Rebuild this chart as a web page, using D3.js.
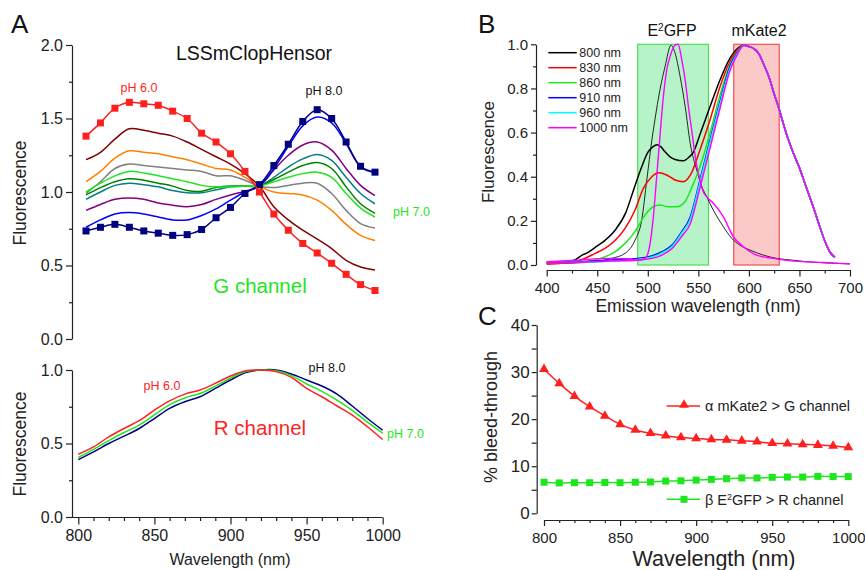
<!DOCTYPE html>
<meta charset="utf-8">
<style>
    body { margin: 0; background: #fff; }
    svg text { font-family: "Liberation Sans", Arial, sans-serif; fill: #222; }
    .axis path, .axis line { stroke: #222; stroke-width: 1.2px; }
    .axis text { fill: #222; }
    .curve { fill: none; }
</style>
<svg width="865" height="570"></svg>
<script src="https://d3js.org/d3.v7.min.js"></script>
<script>
    // ---- panel A : excitation wavelengths (nm) ----
    const wlA = [800, 810, 820, 830, 840, 850, 860, 870, 880, 890, 900, 910, 920, 930, 940, 950, 960, 970, 980, 990, 1000];

    // G channel, pH 6.0 -> pH 8.0
    const gPh60 = [1.38, 1.47, 1.57, 1.61, 1.60, 1.59, 1.55, 1.50, 1.40, 1.34, 1.26, 1.14, 1.00, 0.85, 0.74, 0.65, 0.585, 0.515, 0.44, 0.37, 0.33];
    const gMaroon = [1.22, 1.27, 1.36, 1.43, 1.42, 1.40, 1.38, 1.34, 1.29, 1.24, 1.19, 1.125, 1.04, 0.90, 0.81, 0.74, 0.68, 0.615, 0.535, 0.49, 0.47];
    const gOrange = [1.07, 1.14, 1.23, 1.28, 1.27, 1.26, 1.24, 1.22, 1.19, 1.16, 1.15, 1.10, 1.04, 1.00, 0.99, 0.98, 0.945, 0.875, 0.78, 0.705, 0.67];
    const gGray = [0.99, 1.07, 1.16, 1.19, 1.18, 1.17, 1.16, 1.15, 1.14, 1.11, 1.11, 1.08, 1.04, 1.03, 1.045, 1.06, 1.06, 0.99, 0.875, 0.785, 0.755];
    const gPh70 = [1.00, 1.06, 1.11, 1.14, 1.13, 1.11, 1.09, 1.07, 1.045, 1.035, 1.035, 1.04, 1.04, 1.07, 1.10, 1.125, 1.135, 1.10, 0.99, 0.89, 0.83];
    const gDkGreen = [0.98, 1.03, 1.07, 1.09, 1.08, 1.06, 1.04, 1.01, 1.005, 1.03, 1.04, 1.04, 1.04, 1.085, 1.135, 1.18, 1.20, 1.16, 1.035, 0.92, 0.855];
    const gTeal = [0.95, 1.00, 1.045, 1.06, 1.05, 1.035, 1.01, 0.995, 0.995, 1.015, 1.035, 1.04, 1.04, 1.10, 1.17, 1.225, 1.255, 1.215, 1.10, 0.99, 0.92];
    const gPurple = [0.875, 0.915, 0.95, 0.96, 0.95, 0.925, 0.91, 0.90, 0.915, 0.95, 0.98, 1.005, 1.04, 1.15, 1.25, 1.32, 1.34, 1.285, 1.16, 1.045, 0.975];
    const gBlue = [0.76, 0.81, 0.85, 0.86, 0.85, 0.83, 0.81, 0.81, 0.84, 0.885, 0.945, 1.00, 1.04, 1.16, 1.31, 1.45, 1.51, 1.47, 1.33, 1.17, 1.13];
    const gPh80 = [0.735, 0.76, 0.78, 0.76, 0.735, 0.72, 0.705, 0.71, 0.745, 0.825, 0.895, 0.99, 1.05, 1.18, 1.325, 1.48, 1.56, 1.50, 1.34, 1.175, 1.135];

    // R channel
    const rPh60 = [0.427, 0.477, 0.545, 0.602, 0.655, 0.727, 0.79, 0.836, 0.864, 0.909, 0.959, 0.995, 1.0, 0.989, 0.95, 0.875, 0.818, 0.755, 0.693, 0.614, 0.527];
    const rPh70 = [0.405, 0.46, 0.52, 0.575, 0.625, 0.695, 0.765, 0.81, 0.84, 0.89, 0.945, 0.99, 1.0, 0.995, 0.962, 0.905, 0.855, 0.795, 0.725, 0.645, 0.57];
    const rPh80 = [0.39, 0.443, 0.5, 0.55, 0.602, 0.67, 0.739, 0.784, 0.818, 0.875, 0.932, 0.982, 1.0, 1.0, 0.973, 0.932, 0.891, 0.836, 0.755, 0.67, 0.59];

    // ---- panel B : emission spectra [nm, normalised fluorescence] ----
    const mKateTail = [[595, 0.996], [600, 0.99], [605, 0.98], [610, 0.955], [615, 0.905], [620, 0.85], [625, 0.775], [630, 0.705],
        [635, 0.625], [640, 0.555], [645, 0.495], [650, 0.44], [655, 0.375], [660, 0.31], [665, 0.245], [670, 0.175],
        [675, 0.11], [680, 0.06], [685, 0.035]];
    const spec800 = [[400, 0.01], [410, 0.012], [420, 0.015], [428, 0.023], [435, 0.045], [440, 0.055], [448, 0.08], [458, 0.113],
        [468, 0.16], [478, 0.235], [487, 0.355], [494, 0.445], [500, 0.51], [505, 0.535], [509, 0.545], [513, 0.535],
        [517, 0.513], [522, 0.49], [527, 0.478], [535, 0.472], [541, 0.49], [545, 0.51], [552, 0.597], [561.5, 0.717],
        [571.4, 0.838], [581.2, 0.936], [589, 0.982]];
    const spec830 = [[400, 0.005], [420, 0.01], [431, 0.018], [448, 0.053], [458, 0.076], [468, 0.113], [477.5, 0.166], [487.4, 0.249],
        [495.6, 0.347], [504, 0.40], [510.5, 0.418], [518.7, 0.408], [527, 0.385], [535, 0.377], [543, 0.415], [551.6, 0.521],
        [561.5, 0.657], [571.4, 0.808], [581.2, 0.921], [589, 0.976]];
    const spec860 = [[400, 0.01], [430, 0.012], [448, 0.023], [458, 0.038], [467.6, 0.06], [477.5, 0.098], [487.4, 0.151], [497.3, 0.227],
        [505.5, 0.264], [512, 0.272], [520.3, 0.264], [528.5, 0.264], [536.8, 0.287], [542, 0.335], [551.6, 0.445],
        [561.5, 0.597], [571.4, 0.77], [581.2, 0.906], [589, 0.97]];
    const spec910 = [[400, 0.015], [431, 0.015], [464, 0.023], [490, 0.03], [504, 0.041], [514, 0.06], [524, 0.09], [533.6, 0.151],
        [541.8, 0.215], [551.6, 0.385], [561.5, 0.566], [571.4, 0.74], [581.2, 0.899], [589, 0.966]];
    const spec960 = [[400, 0.012], [431, 0.012], [464, 0.018], [490, 0.025], [504, 0.036], [514, 0.055], [524, 0.085], [533.6, 0.145],
        [541.8, 0.205], [551.6, 0.375], [561.5, 0.555], [571.4, 0.73], [581.2, 0.89], [589, 0.962]];
    const spec1000 = [[400, 0.01], [431, 0.012], [464, 0.018], [490, 0.022], [504, 0.03], [514, 0.045], [524, 0.075], [533.6, 0.13],
        [541.8, 0.185], [551.6, 0.35], [561.5, 0.53], [571.4, 0.71], [581.2, 0.88], [589, 0.958]];
    // narrow E2GFP-like reference spectra
    const refBlack = [[400, 0.005], [448, 0.015], [464, 0.03], [477.5, 0.053], [487.4, 0.113], [494, 0.204], [499, 0.385], [504, 0.566],
        [507, 0.657], [512, 0.793], [517, 0.898], [523, 0.996], [527, 0.96], [532, 0.853], [537, 0.717], [542, 0.55],
        [548.4, 0.43], [553, 0.36], [558.2, 0.31], [564.8, 0.249], [574.7, 0.174], [583, 0.121], [591, 0.09], [601, 0.068],
        [614.2, 0.045], [627.4, 0.03], [640.6, 0.023], [657, 0.015], [673.6, 0.01], [700, 0.005]];
    const refMagenta = [[400, 0.015], [430, 0.022], [460, 0.03], [480, 0.028], [490, 0.022], [497.3, 0.03], [502.3, 0.098], [505.5, 0.219],
        [508.8, 0.4], [512, 0.582], [515.4, 0.763], [518.7, 0.884], [522, 0.944], [527, 0.996], [530, 1.0], [533.6, 0.929],
        [537, 0.838], [540.2, 0.717], [543.4, 0.612], [548, 0.46], [551.6, 0.385], [555, 0.33], [558, 0.31], [564.8, 0.28],
        [574.7, 0.219], [584.6, 0.128], [594.5, 0.083], [607.6, 0.045], [624, 0.03], [640, 0.02], [673.6, 0.011], [700, 0.005]];
    const legendB = ["800 nm", "830 nm", "860 nm", "910 nm", "960 nm", "1000 nm"];
    const bandGfp = [490, 560];
    const bandKate = [585, 630];

    // ---- panel C : bleed-through (%) ----
    const alphaBleed = [30.6, 27.6, 24.9, 22.65, 20.7, 18.9, 17.7, 17.0, 16.5, 16.1, 15.9, 15.7, 15.6, 15.4, 15.2, 14.9, 14.8, 14.65, 14.5, 14.3, 14.0];
    const betaBleed = [6.6, 6.45, 6.5, 6.5, 6.55, 6.5, 6.6, 6.65, 6.85, 6.9, 7.05, 7.2, 7.35, 7.5, 7.5, 7.65, 7.7, 7.7, 7.85, 7.8, 7.8];

    const RED = "#ff1f1f", LIME = "#1ee61e", NAVY = "#000080";

    let svg = d3.select("svg");

    // generic axis with major + minor ticks
    function addAxis(axisFn, scale, tx, ty, majors, minors, fmt, o) {
        let g = svg.append("g").attr("class", "axis").attr("transform", "translate(" + tx + "," + ty + ")");
        g.append("g").call(axisFn(scale).tickValues(minors).tickFormat("").tickSize(o.minor).tickSizeOuter(0))
            .select(".domain").remove();
        g.append("g").call(axisFn(scale).tickValues(majors).tickFormat(fmt).tickSize(o.major)
            .tickPadding(o.pad).tickSizeOuter(0))
            .selectAll("text").style("font-size", o.font + "px").style("font-family", '"Liberation Sans", Arial, sans-serif');
        if (o.noDomain) g.selectAll(".domain").remove();
        return g;
    }

    function label(txt, x, y, size, color, anchor) {
        return svg.append("text").attr("x", x).attr("y", y).attr("text-anchor", anchor || "middle")
            .style("font-size", size + "px").style("fill", color || "#222").text(txt);
    }

    function vLabel(txt, x, y, size) {
        svg.append("text").attr("transform", "translate(" + x + "," + y + ") rotate(-90)")
            .attr("text-anchor", "middle").style("font-size", size + "px").text(txt);
    }

    const f1 = d3.format(".1f");

    // ================= Panel A (top: G channel) =================
    let xTop = d3.scaleLinear().domain([800, 1000]).range([86, 375]);
    let yTop = d3.scaleLinear().domain([0, 2]).range([339, 45]);

    addAxis(d3.axisLeft, yTop, 72, 0, [0, 0.5, 1, 1.5, 2], [0.25, 0.75, 1.25, 1.75], f1, {major: 6, minor: 3, pad: 3, font: 16});

    let lineTop = d3.line().x((d, i) => xTop(wlA[i])).y(d => yTop(d)).curve(d3.curveCatmullRom.alpha(0.5));

    const topSeries = [
        {v: gMaroon, c: "#800000"}, {v: gOrange, c: "#ff8000"}, {v: gGray, c: "#808080"},
        {v: gTeal, c: "#008080"}, {v: gDkGreen, c: "#008000"}, {v: gPh70, c: LIME},
        {v: gPurple, c: "#800080"}, {v: gBlue, c: "#0000ff"},
        {v: gPh80, c: NAVY, m: true}, {v: gPh60, c: RED, m: true}
    ];
    topSeries.forEach(s => {
        svg.append("path").attr("class", "curve").attr("d", lineTop(s.v))
            .attr("stroke", s.c).attr("stroke-width", 1.5);
        if (s.m) {
            svg.append("g").selectAll("rect").data(s.v).enter().append("rect")
                .attr("x", (d, i) => xTop(wlA[i]) - 3.5).attr("y", d => yTop(d) - 3.5)
                .attr("width", 7).attr("height", 7).attr("fill", s.c);
        }
    });

    label("LSSmClopHensor", 254, 60, 19.5, "#111");
    label("pH 6.0", 139, 91.5, 12.5, RED);
    label("pH 8.0", 324, 95, 12.5, "#111");
    label("pH 7.0", 393, 216, 12.5, LIME, "start");
    label("G channel", 260, 292.5, 20.5, LIME);
    vLabel("Fluorescence", 26, 193, 17.5);
    label("A", 11, 33, 26, "#111", "start");

    // ================= Panel A (bottom: R channel) =================
    let xBot = d3.scaleLinear().domain([800, 1000]).range([78.3, 382.7]);
    let yBot = d3.scaleLinear().domain([0, 1]).range([517, 370]);

    addAxis(d3.axisLeft, yBot, 72, 0, [0, 0.5, 1], [0.25, 0.75], f1, {major: 6, minor: 3, pad: 3, font: 16});
    addAxis(d3.axisBottom, xBot, 0, 517.5, [800, 850, 900, 950, 1000],
        wlA.filter(w => w % 50 !== 0), d3.format("d"), {major: 7, minor: 3.5, pad: 5, font: 16, noDomain: true});
    svg.append("line").attr("x1", 72).attr("x2", 382.7).attr("y1", 517.5).attr("y2", 517.5)
        .attr("stroke", "#222").attr("stroke-width", 1.2);

    let lineBot = d3.line().x((d, i) => xBot(wlA[i])).y(d => yBot(d)).curve(d3.curveCatmullRom.alpha(0.5));
    [{v: rPh80, c: NAVY}, {v: rPh70, c: LIME}, {v: rPh60, c: RED}].forEach(s => {
        svg.append("path").attr("class", "curve").attr("d", lineBot(s.v))
            .attr("stroke", s.c).attr("stroke-width", 1.5);
    });

    label("pH 6.0", 162, 390, 12.5, RED);
    label("pH 8.0", 327, 372, 12.5, "#111");
    label("pH 7.0", 387, 438, 12.5, LIME, "start");
    label("R channel", 260, 435, 20.5, RED);
    vLabel("Fluorescence", 26, 444, 17.5);
    label("Wavelength (nm)", 230, 565, 16);

    // ================= Panel B =================
    let xB = d3.scaleLinear().domain([400, 700]).range([546.7, 850]);
    let yB = d3.scaleLinear().domain([0, 1]).range([265, 44.3]);

    // filter bands
    svg.append("rect").attr("x", xB(bandGfp[0])).attr("y", yB(1))
        .attr("width", xB(bandGfp[1]) - xB(bandGfp[0])).attr("height", yB(0) - yB(1))
        .attr("fill", "#b6f3c8").attr("stroke", "#4fe04f").attr("stroke-width", 1.2);
    svg.append("rect").attr("x", xB(bandKate[0])).attr("y", yB(1))
        .attr("width", xB(bandKate[1]) - xB(bandKate[0])).attr("height", yB(0) - yB(1))
        .attr("fill", "#fcc9c9").attr("stroke", "#f25050").attr("stroke-width", 1.2);

    addAxis(d3.axisLeft, yB, 536, 0, [0, 0.2, 0.4, 0.6, 0.8, 1.0], [0.1, 0.3, 0.5, 0.7, 0.9], f1,
        {major: 5, minor: 3, pad: 3, font: 15});
    addAxis(d3.axisBottom, xB, 0, 270, [400, 450, 500, 550, 600, 650, 700], [425, 475, 525, 575, 625, 675],
        d3.format("d"), {major: 6.5, minor: 3.5, pad: 6, font: 15});

    let lineB = d3.line().x(d => xB(d[0])).y(d => yB(d[1])).curve(d3.curveMonotoneX);

    svg.append("path").attr("class", "curve").attr("d", lineB(refBlack)).attr("stroke", "#111").attr("stroke-width", 0.9);

    const specB = [
        {d: spec800, c: "#000000"}, {d: spec830, c: "#ff0000"}, {d: spec860, c: LIME},
        {d: spec910, c: "#0000ff"}, {d: spec960, c: "#00ffff"}, {d: spec1000, c: "#ff00ff"}
    ];
    specB.forEach(s => {
        svg.append("path").attr("class", "curve").attr("d", lineB(s.d.concat(mKateTail)))
            .attr("stroke", s.c).attr("stroke-width", 1.5);
    });
    svg.append("path").attr("class", "curve").attr("d", lineB(refMagenta)).attr("stroke", "#ff00ff").attr("stroke-width", 1.4);

    // legend
    const legendColors = ["#000000", "#ff0000", LIME, "#0000ff", "#00ffff", "#ff00ff"];
    legendB.forEach((t, i) => {
        let y = 52.7 + i * 15;
        svg.append("line").attr("x1", 548.3).attr("x2", 576.7).attr("y1", y).attr("y2", y)
            .attr("stroke", legendColors[i]).attr("stroke-width", 1.5);
        label(t, 579.3, y + 4.5, 12.5, "#222", "start");
    });

    let eg = label("", 672, 35.7, 16, "#111");
    eg.append("tspan").text("E");
    eg.append("tspan").attr("baseline-shift", "super").style("font-size", "10px").text("2");
    eg.append("tspan").text("GFP");
    label("mKate2", 759, 35.7, 16, "#111");
    vLabel("Fluorescence", 494, 152, 17);
    label("Emission wavelength (nm)", 698, 312, 17.5);
    label("B", 478, 33, 26, "#111", "start");

    // ================= Panel C =================
    let xC = d3.scaleLinear().domain([800, 1000]).range([544, 848.3]);
    let yC = d3.scaleLinear().domain([0, 40]).range([513.3, 325]);

    addAxis(d3.axisLeft, yC, 536.7, 0, [0, 10, 20, 30, 40], [5, 15, 25, 35], d3.format("d"),
        {major: 5, minor: 5, pad: 2, font: 17});
    addAxis(d3.axisBottom, xC, 0, 520, [800, 850, 900, 950, 1000], wlA.filter(w => w % 50 !== 0),
        d3.format("d"), {major: 6, minor: 3, pad: 6, font: 15});

    let lineC = d3.line().x((d, i) => xC(wlA[i])).y(d => yC(d)).curve(d3.curveCatmullRom.alpha(0.5));
    svg.append("path").attr("class", "curve").attr("d", lineC(betaBleed)).attr("stroke", LIME).attr("stroke-width", 1.5);
    svg.append("g").selectAll("rect").data(betaBleed).enter().append("rect")
        .attr("x", (d, i) => xC(wlA[i]) - 3.5).attr("y", d => yC(d) - 3.5)
        .attr("width", 7).attr("height", 7).attr("fill", LIME);
    svg.append("path").attr("class", "curve").attr("d", lineC(alphaBleed)).attr("stroke", RED).attr("stroke-width", 1.5);
    let tri = d3.symbol(d3.symbolTriangle, 42);
    svg.append("g").selectAll("path").data(alphaBleed).enter().append("path")
        .attr("d", tri).attr("transform", (d, i) => "translate(" + xC(wlA[i]) + "," + yC(d) + ")")
        .attr("fill", RED);

    // legend C
    svg.append("line").attr("x1", 666.7).attr("x2", 700).attr("y1", 406).attr("y2", 406).attr("stroke", RED).attr("stroke-width", 1.5);
    svg.append("path").attr("d", tri).attr("transform", "translate(684,405)").attr("fill", RED);
    label("α mKate2 > G channel", 705, 411, 14.5, "#222", "start");
    svg.append("line").attr("x1", 666.7).attr("x2", 700).attr("y1", 499.3).attr("y2", 499.3).attr("stroke", LIME).attr("stroke-width", 1.5);
    svg.append("rect").attr("x", 680.5).attr("y", 495.8).attr("width", 7).attr("height", 7).attr("fill", LIME);
    let lb = label("", 705, 504.5, 14.5, "#222", "start");
    lb.append("tspan").text("β E");
    lb.append("tspan").attr("baseline-shift", "super").style("font-size", "9px").text("2");
    lb.append("tspan").text("GFP > R channel");

    vLabel("% bleed-through", 497, 417, 18);
    label("Wavelength (nm)", 714, 566, 21.5);
    label("C", 478, 325, 26, "#111", "start");
</script>
<body>
</body>
